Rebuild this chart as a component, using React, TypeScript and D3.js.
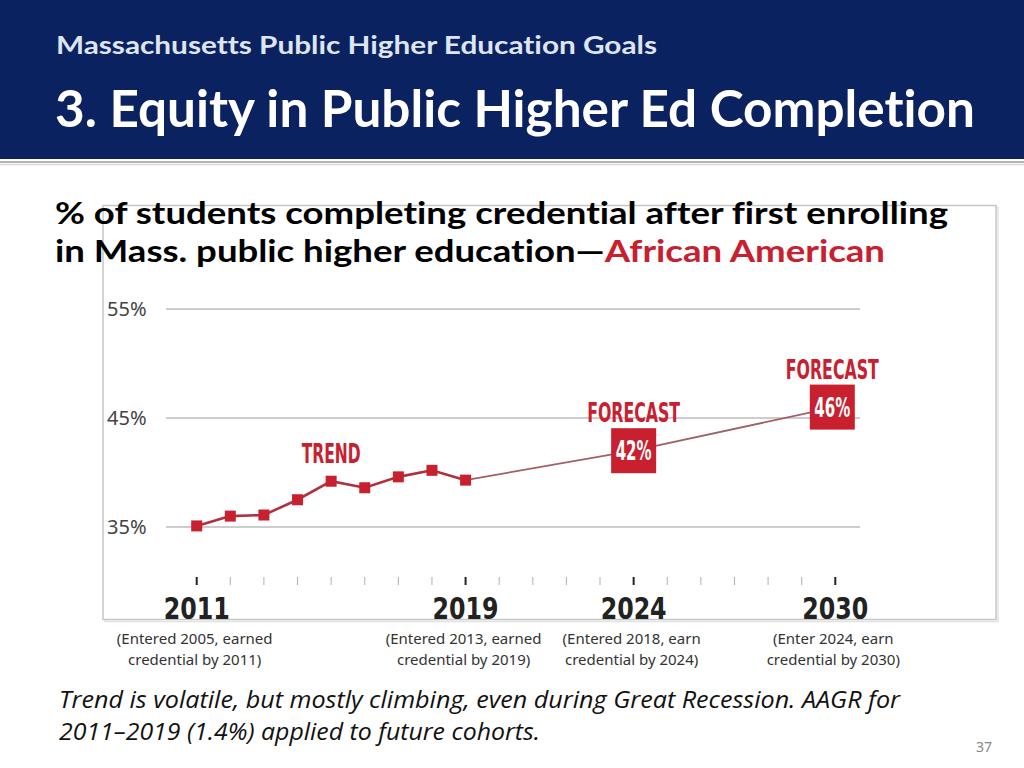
import React from "react";
import * as d3 from "d3";

const trendYears = [2011, 2012, 2013, 2014, 2015, 2016, 2017, 2018, 2019];
const trendValues = [35.1, 36.0, 36.1, 37.5, 39.2, 38.6, 39.6, 40.2, 39.3];
const forecastYears = [2019, 2024, 2030];
const forecastValues = [39.3, 42, 46];
const forecastLabels = ["", "42%", "46%"];
const yTicks = [35, 45, 55];
const majorYears = [2011, 2019, 2024, 2030];
const captionsLine1 = ["(Entered 2005, earned", "(Entered 2013, earned", "(Entered 2018, earn", "(Enter 2024, earn"];
const captionsLine2 = ["credential by 2011)", "credential by 2019)", "credential by 2024)", "credential by 2030)"];

const RED = "#c8202f";
const NARROW = "'Liberation Sans Narrow', 'DejaVu Sans Condensed', sans-serif";
const SANS = "'Open Sans', 'Noto Sans', sans-serif";
const HEAD = "Lato, 'Open Sans', sans-serif";
const noLig = { fontVariantLigatures: "none" as const };

export default function App() {
  const x = d3.scaleLinear().domain([2011, 2030]).range([196.7, 835.3]);
  const y = d3.scaleLinear().domain([35, 55]).range([527, 309]);
  const allYears = d3.range(2011, 2031);

  const trendLine = d3
    .line<number>()
    .x((_, i) => x(trendYears[i]))
    .y((d) => y(d))(trendValues) as string;
  const forecastLine = d3
    .line<number>()
    .x((_, i) => x(forecastYears[i]))
    .y((d) => y(d))(forecastValues) as string;

  const box = 45;

  return (
    <svg
      width={1024}
      height={768}
      style={{ position: "absolute", left: 0, top: 0, background: "#fff" }}
    >
      {/* header */}
      <rect x={0} y={0} width={1024} height={159} fill="#0b2261" />
      <line x1={0} x2={1024} y1={162} y2={162} stroke="#9a9a9a" strokeWidth={1.5} />
      <line x1={0} x2={1024} y1={164.5} y2={164.5} stroke="#d8d8d8" strokeWidth={1.5} />
      <text
        x={56}
        y={54}
        fill="#dfe5ef"
        fontFamily={HEAD}
        fontWeight={700}
        fontSize={25}
        textLength={601}
        lengthAdjust="spacingAndGlyphs"
        style={noLig}
      >
        Massachusetts Public Higher Education Goals
      </text>
      <text
        x={55}
        y={127}
        fill="#ffffff"
        fontFamily={HEAD}
        fontWeight={700}
        fontSize={52}
        textLength={920}
        lengthAdjust="spacingAndGlyphs"
        style={noLig}
      >
        3. Equity in Public Higher Ed Completion
      </text>

      {/* chart frame */}
      <rect x={105} y={207.5} width={893} height={414} fill="none" stroke="#e2e2e2" strokeWidth={1.5} />
      <rect x={103} y={205.5} width={893} height={414} fill="#fff" stroke="#c6c6c6" strokeWidth={1.5} />

      {/* chart heading */}
      <text
        x={55}
        y={224}
        fill="#000"
        fontFamily={HEAD}
        fontWeight={700}
        fontSize={31}
        textLength={893}
        lengthAdjust="spacingAndGlyphs"
        style={noLig}
      >
        % of students completing credential after first enrolling
      </text>
      <text
        x={55}
        y={262}
        fill="#000"
        fontFamily={HEAD}
        fontWeight={700}
        fontSize={31}
        textLength={830}
        lengthAdjust="spacingAndGlyphs"
        style={noLig}
      >
        in Mass. public higher education—<tspan fill={RED}>African American</tspan>
      </text>

      {/* gridlines and y labels */}
      {yTicks.map((t) => (
        <g key={t}>
          <line x1={166} x2={860} y1={y(t)} y2={y(t)} stroke="#bdbdbd" strokeWidth={1.5} />
          <text
            x={107}
            y={y(t) + 7}
            fill="#444"
            fontFamily="'Noto Sans', sans-serif"
            fontSize={20}
          >
            {t}%
          </text>
        </g>
      ))}

      {/* forecast line */}
      <path d={forecastLine} fill="none" stroke="#a25f69" strokeWidth={1.8} />
      {/* trend line */}
      <path d={trendLine} fill="none" stroke="#b2303e" strokeWidth={2.6} />
      {trendValues.map((v, i) => (
        <rect
          key={i}
          x={x(trendYears[i]) - 5.5}
          y={y(v) - 5.5}
          width={11}
          height={11}
          fill={RED}
        />
      ))}

      {/* TREND label */}
      <text
        x={x(2015)}
        y={462.5}
        textAnchor="middle"
        fill={RED}
        fontFamily={NARROW}
        fontWeight={700}
        fontSize={27}
        textLength={59}
        lengthAdjust="spacingAndGlyphs"
      >
        TREND
      </text>

      {/* forecast boxes */}
      {forecastYears.map((yr, i) =>
        i === 0 ? null : (
          <g key={yr}>
            <rect
              x={x(yr) - box / 2 - (yr === 2030 ? 3 : 0)}
              y={y(forecastValues[i]) - box / 2}
              width={box}
              height={box}
              fill={RED}
            />
            <text
              x={x(yr) - (yr === 2030 ? 3 : 0)}
              y={y(forecastValues[i]) + 9.5}
              textAnchor="middle"
              fill="#fff"
              fontFamily={NARROW}
              fontWeight={700}
              fontSize={27}
              textLength={36}
              lengthAdjust="spacingAndGlyphs"
            >
              {forecastLabels[i]}
            </text>
            <text
              x={x(yr) - (yr === 2030 ? 3 : 0)}
              y={y(forecastValues[i]) - box / 2 - 6}
              textAnchor="middle"
              fill={RED}
              fontFamily={NARROW}
              fontWeight={700}
              fontSize={27}
              textLength={93}
              lengthAdjust="spacingAndGlyphs"
            >
              FORECAST
            </text>
          </g>
        )
      )}

      {/* x ticks */}
      {allYears.map((yr) => {
        const major = majorYears.includes(yr);
        return (
          <line
            key={yr}
            x1={x(yr)}
            x2={x(yr)}
            y1={577}
            y2={585}
            stroke={major ? "#222" : "#b0b0b0"}
            strokeWidth={major ? 2 : 1}
          />
        );
      })}
      {majorYears.map((yr) => (
        <text
          key={yr}
          x={x(yr)}
          y={619}
          textAnchor="middle"
          fill="#222"
          fontFamily={NARROW}
          fontWeight={700}
          fontSize={31}
          textLength={66}
          lengthAdjust="spacingAndGlyphs"
        >
          {yr}
        </text>
      ))}

      {/* captions */}
      {majorYears.map((yr, i) => (
        <g key={yr} fontFamily="'Noto Sans', sans-serif" fontSize={15} fill="#333">
          <text x={x(yr) - 2} y={644} textAnchor="middle">
            {captionsLine1[i]}
          </text>
          <text x={x(yr) - 2} y={665} textAnchor="middle">
            {captionsLine2[i]}
          </text>
        </g>
      ))}

      {/* footnote */}
      <text
        x={59}
        y={708}
        fill="#111"
        fontFamily={SANS}
        fontStyle="italic"
        fontSize={23}
        textLength={841}
        lengthAdjust="spacingAndGlyphs"
      >
        Trend is volatile, but mostly climbing, even during Great Recession. AAGR for
      </text>
      <text
        x={59}
        y={740}
        fill="#111"
        fontFamily={SANS}
        fontStyle="italic"
        fontSize={23}
        textLength={481}
        lengthAdjust="spacingAndGlyphs"
      >
        2011–2019 (1.4%) applied to future cohorts.
      </text>

      <text x={984} y={752} textAnchor="middle" fill="#888" fontFamily="'Noto Sans', sans-serif" fontSize={14}>
        37
      </text>
    </svg>
  );
}
